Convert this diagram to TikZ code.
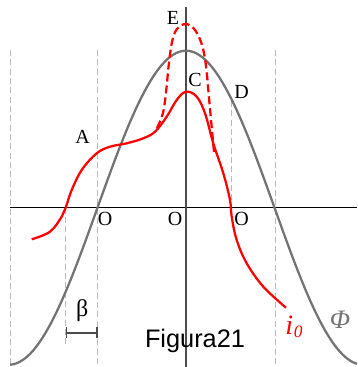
\documentclass[tikz,border=0pt]{standalone}
\usepackage{fontspec}
\setmainfont{Liberation Serif}
\newfontfamily\capfont{Liberation Sans}
\usetikzlibrary{arrows.meta}

\begin{document}
\begin{tikzpicture}[x=0.75pt,y=-0.75pt,font=\fontsize{15}{17}\selectfont,
  guide/.style={draw=gray!55,line width=0.6pt,dash pattern=on 4.5pt off 2.5pt},
  phi/.style={draw=gray!90!black,line width=1.7pt},
  flux/.style={draw=red,line width=1.7pt},
  lbl/.style={inner sep=0pt}]

\def\axisY{207.7}
\def\midX{186}
\def\zeroL{97.7}
\def\zeroR{275}
\def\amp{157}
\def\halfP{177}

\useasboundingbox (0,0) rectangle (357,367);

% guide lines
\draw[guide] (10,50) -- (10,367);
\draw[guide] (\zeroL,50) -- (\zeroL,367);
\draw[guide] (\zeroR,50) -- (\zeroR,367);
\draw[guide] (231.7,101) -- (231.7,\axisY);
\draw[guide] (65.7,\axisY) -- (65.7,346);

% axes
\draw[line width=0.8pt] (10,\axisY) -- (357,\axisY);
\draw[line width=1.3pt,draw=black!70] (\midX,7) -- (\midX,367);

% flux curve
\draw[phi] plot[domain=10:357,samples=120]
  (\x,{\axisY-\amp*cos(180/\halfP*(\x-\midX))});

% current, dashed peak
\draw[flux,dash pattern=on 6pt off 3pt] plot[smooth,tension=0.6] coordinates {
  (157,128) (163,113) (166.5,88) (168.5,67) (172,42) (177,29) (186,24)
  (195,30) (202,45) (206,66) (209,98) (211.5,125) (214,152)};

% current, solid
\draw[flux] plot[smooth,tension=0.6] coordinates {
  (31.7,239.3) (50,231.7) (61.7,216.7) (65.7,207.7) (71.7,190) (81.7,170)
  (96.7,153.3) (110,146.7) (126.7,143.3) (143.3,138.3) (155,131.7)
  (166.7,116.7) (176.7,100) (186,91.7) (196.7,96.7) (205,113.3)
  (213.3,143.3) (223.3,173.3) (230,200) (231.7,216.7) (236.7,240)
  (246.7,263.3) (263.3,286.7) (286,307.7)};

% beta span
\coordinate (bL) at (65.7,332.7);
\coordinate (bR) at (\zeroL,332.7);
\draw[{Bar[width=8pt]}-{Bar[width=8pt]},line width=1.3pt,draw=black!70] (bL) -- (bR);
\node[lbl,font=\fontsize{18}{20}\selectfont] (beta) at (82.3,310.7) {β};

% labels
\node[lbl] (ptE) at (173,18) {E};
\node[lbl] (ptC) at (195,80) {C};
\node[lbl] (ptD) at (241.7,91.7) {D};
\node[lbl] (ptA) at (82.7,137.3) {A};
\node[lbl] (oL) at (105,219.3) {O};
\node[lbl] (oM) at (175,219.3) {O};
\node[lbl] (oR) at (241.7,219.3) {O};

\node[lbl,text=red,font=\fontsize{21}{22}\selectfont\itshape] (io) at (294,327)
  {i\kern0.5pt\raisebox{-2pt}{\fontsize{13}{14}\selectfont 0}};
\node[lbl,text=gray!90!black,font=\fontsize{20}{22}\selectfont\itshape] (fi) at (340,320) {Φ};

\node[lbl,font=\capfont\fontsize{19}{21}\selectfont] (cap) at (195,341) {Figura21};

\end{tikzpicture}
\end{document}
